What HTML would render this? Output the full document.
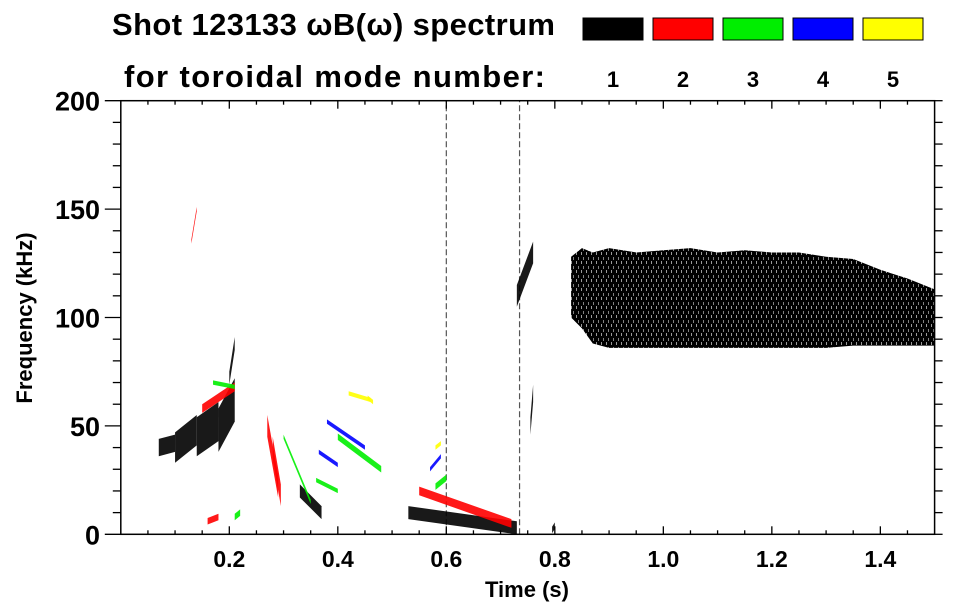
<!DOCTYPE html>
<html><head><meta charset="utf-8"><style>
body{margin:0;background:#fff;}
svg{display:block;font-family:"Liberation Sans",sans-serif;font-weight:bold;}
</style></head><body>
<svg id="c" width="963" height="615" viewBox="0 0 963 615">
<defs>
<pattern id="tex" width="5" height="9" patternUnits="userSpaceOnUse">
<rect width="5" height="9" fill="#000"/>
<rect x="1" y="0" width="1" height="3" fill="#fff" opacity="0.6"/>
<rect x="3" y="5" width="1" height="3" fill="#fff" opacity="0.5"/>
</pattern>
</defs>
<g>
<text x="112" y="35" font-size="31" textLength="443">Shot 123133 ωB(ω) spectrum</text>
<text x="124" y="87" font-size="31" textLength="421">for toroidal mode number:</text>
</g>
<g id="legend"></g>
<g id="plot"></g>
<g id="axes"></g>
</svg>
<script>
const modeColors=['#000000','#ff0000','#00ee00','#0000ff','#ffff00'];
const modeLabels=['1','2','3','4','5'];
const xTicks=[0.2,0.4,0.6,0.8,1.0,1.2,1.4];
const xTickLabels=['0.2','0.4','0.6','0.8','1.0','1.2','1.4'];
const yTicks=[0,50,100,150,200];
// broadband mode-1 region
const bandT=[0.83,0.85,0.87,0.9,0.95,1.0,1.05,1.1,1.15,1.2,1.25,1.3,1.35,1.4,1.45,1.5];
const bandLo=[100,95,88,86,86,86,86,86,86,86,86,86,87,87,87,87];
const bandHi=[128,132,130,132,130,131,132,130,131,130,130,128,127,122,118,113];
// coherent mode streaks: mode, t0,f0,t1,f1, bandwidth(kHz)
const segMode=[0,0,0,0,0,0,0,0,0,0, 1,1,1,1,1,1, 2,2,2,2,2,2, 3,3,3, 4,4,4];
const segT0=[0.07,0.10,0.14,0.18,0.20,0.33,0.53,0.755,0.73,0.795, 0.13,0.15,0.27,0.28,0.55,0.16, 0.30,0.40,0.58,0.17,0.21,0.36, 0.38,0.57,0.365, 0.42,0.58,0.455];
const segF0=[40,40,45,48,72,20,10,50,110,2, 135,58,50,40,20,6, 45,45,22,70,8,25, 52,30,38, 65,40,63];
const segT1=[0.10,0.14,0.18,0.21,0.21,0.37,0.73,0.76,0.76,0.80, 0.14,0.21,0.29,0.295,0.72,0.18, 0.35,0.48,0.60,0.21,0.22,0.40, 0.45,0.59,0.40, 0.46,0.59,0.465];
const segF1=[42,48,52,62,88,10,3,65,130,4, 150,68,22,18,5,8, 15,30,26,68,10,20, 40,36,32, 62,42,61];
const segBW=[8,14,18,20,6,6,6,8,10,3, 2,4,10,10,4,3, 2,3,3,2,3,2, 2,2,2, 2,2,2];
// thin broadband vertical lines (mode 1)
const vlineT=[0.6,0.735];
const vlineF0=[0,0];
const vlineF1=[200,200];
const X0=120.8,X1=934.6,Y0=534.3,Y1=100.7;
const sx=t=>X0+(X1-X0)*t/1.5, sy=f=>Y0+(Y1-Y0)*f/200;
const NS='http://www.w3.org/2000/svg';
function mk(tag,attrs,parent){const e=document.createElementNS(NS,tag);for(const k in attrs)e.setAttribute(k,attrs[k]);parent.appendChild(e);return e;}
const leg=document.getElementById('legend'),plot=document.getElementById('plot'),ax=document.getElementById('axes');
const boxX=[583,653,723,793,863];
modeColors.forEach((c,i)=>{
 const r=mk('rect',{x:boxX[i],y:18,width:60,height:22,fill:c,stroke:'#000','stroke-width':1},leg);
 
 
 const t=mk('text',{x:boxX[i]+30,y:87,'font-size':22,'text-anchor':'middle'},leg);t.textContent=modeLabels[i];
 
 
});
let pts=bandT.map((t,i)=>sx(t)+','+sy(bandHi[i]));
for(let i=bandT.length-1;i>=0;i--)pts.push(sx(bandT[i])+','+sy(bandLo[i]));
const bp=mk('polygon',{points:pts.join(' '),fill:'url(#tex)'},plot);


vlineT.forEach((t,i)=>{
 const l=mk('line',{x1:sx(t),y1:sy(vlineF0[i]),x2:sx(t),y2:sy(vlineF1[i]),stroke:'#555','stroke-width':1.2,'stroke-dasharray':'6 3'},plot);
 
 
});
segMode.forEach((m,i)=>{
 const h=segBW[i]/2;
 const p=[[segT0[i],segF0[i]+h],[segT1[i],segF1[i]+h],[segT1[i],segF1[i]-h],[segT0[i],segF0[i]-h]].map(q=>sx(q[0])+','+sy(Math.max(0,q[1]))).join(' ');
 const e=mk('polygon',{points:p,fill:modeColors[m],opacity:0.9},plot);
 
 
});
mk('rect',{x:X0,y:Y1,width:X1-X0,height:Y0-Y1,fill:'none',stroke:'#000','stroke-width':1.5},ax);
for(let f=0;f<=200;f+=10){
 const y=sy(f),maj=f%50===0;
 mk('line',{x1:X0-(maj?16:8),y1:y,x2:X0,y2:y,stroke:'#000','stroke-width':1.3},ax);
 mk('line',{x1:X1,y1:y,x2:X1+8,y2:y,stroke:'#000','stroke-width':1.3},ax);
}
for(let k=1;k<30;k++){
 const t=k*0.05,x=sx(t),maj=k%4===0;
 mk('line',{x1:x,y1:Y0,x2:x,y2:Y0-(maj?8:4),stroke:'#000','stroke-width':1.3},ax);
 mk('line',{x1:x,y1:Y1,x2:x,y2:Y1+(maj?8:4),stroke:'#000','stroke-width':1.3},ax);
}
xTicks.forEach((t,i)=>{const e=mk('text',{x:sx(t),y:567,'font-size':23,'text-anchor':'middle'},ax);e.textContent=xTickLabels[i];
 
 });
yTicks.forEach(f=>{const e=mk('text',{x:100,y:sy(f)+10,'font-size':27,'text-anchor':'end'},ax);e.textContent=String(f);
 
 });
const xt=mk('text',{x:527,y:597,'font-size':22,'text-anchor':'middle'},ax);xt.textContent='Time (s)';


const yt=mk('text',{x:0,y:0,'font-size':22,'text-anchor':'middle',transform:'translate(32,318) rotate(-90)'},ax);yt.textContent='Frequency (kHz)';


</script>
</body></html>
